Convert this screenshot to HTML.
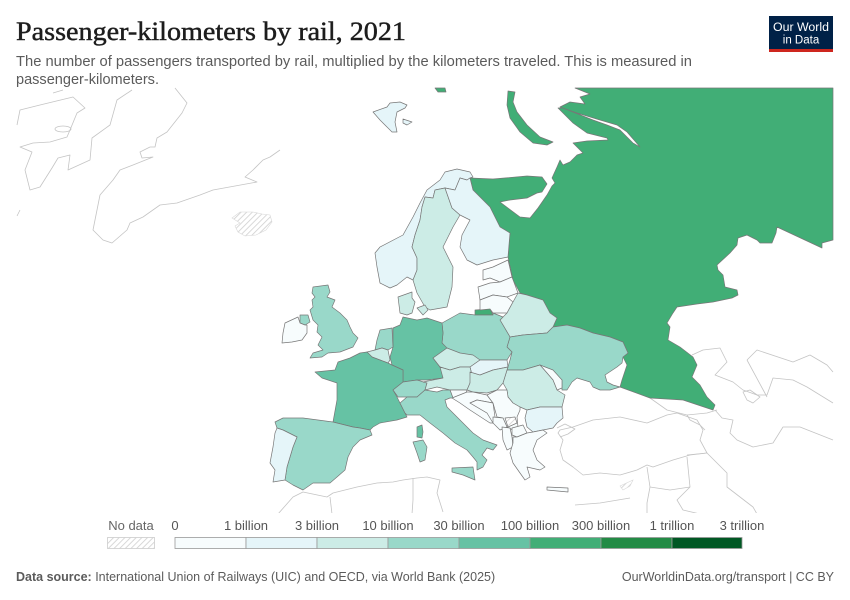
<!DOCTYPE html>
<html><head><meta charset="utf-8">
<style>
html,body{margin:0;padding:0;background:#fff;}
svg{display:block;}
</style></head>
<body>
<svg width="850" height="600" viewBox="0 0 850 600" xmlns="http://www.w3.org/2000/svg">
<defs>
<pattern id="hatch" patternUnits="userSpaceOnUse" width="4" height="4" patternTransform="rotate(45)">
<rect width="4" height="4" fill="#fff"/>
<line x1="0" y1="0" x2="0" y2="4" stroke="#cfcfcf" stroke-width="1.6"/>
</pattern>
<clipPath id="mapclip"><rect x="0" y="86" width="833.5" height="427"/></clipPath>
</defs>
<rect width="850" height="600" fill="#fff"/>

<!-- Title -->
<text x="16" y="40" font-family="'Liberation Serif', serif" font-size="26" fill="#1d1d1d" stroke="#1d1d1d" stroke-width="0.45" textLength="390" lengthAdjust="spacingAndGlyphs">Passenger-kilometers by rail, 2021</text>
<text x="16" y="66" font-family="'Liberation Sans', sans-serif" font-size="14.5" fill="#5b5b5b" textLength="676" lengthAdjust="spacingAndGlyphs">The number of passengers transported by rail, multiplied by the kilometers traveled. This is measured in</text>
<text x="16" y="84" font-family="'Liberation Sans', sans-serif" font-size="14.5" fill="#5b5b5b" textLength="143" lengthAdjust="spacingAndGlyphs">passenger-kilometers.</text>

<!-- Logo -->
<rect x="769" y="16" width="64" height="36" fill="#002147"/>
<rect x="769" y="49" width="64" height="3" fill="#ce261e"/>
<text x="801" y="31" text-anchor="middle" font-family="'Liberation Sans', sans-serif" font-size="11.5" fill="#fff" textLength="56" lengthAdjust="spacingAndGlyphs">Our World</text>
<text x="801" y="43.5" text-anchor="middle" font-family="'Liberation Sans', sans-serif" font-size="11.5" fill="#fff">in Data</text>

<g clip-path="url(#mapclip)">
<!-- no-data world outlines -->
<g fill="none" stroke="#c4c4c4" stroke-width="0.8" stroke-linejoin="round">
<path d="M175,88 L187,103 L182,113 L167,132 L157,138 L155,147 L150,147 L140,152 L142,158 L153,157 L133,165 L120,170 L113,180 L100,195 L95,220 L93,230 L103,240 L112,243 L127,230 L130,223 L143,217 L160,205 L177,203 L200,195 L213,190 L257,182 L245,177 L253,170 L263,160 L270,157 L280,150"/>
<path d="M40,105 L73,97 L85,108 L77,113 L70,130 L67,137 L50,142 L33,143 L20,147 L32,152 L25,170 L30,190 L40,187 L52,168 L58,158 L70,155 L68,170 L90,160 L92,138 L110,125 L117,100 L132,90"/>
<path d="M40,105 L20,110 L17,125"/>
<path d="M53,93 L63,90"/>
<path d="M20,210 L17,216"/>
<ellipse cx="63" cy="129" rx="8" ry="3"/>
<!-- Turkey -->
<path d="M558,433 L560,430 L573,427 L593,420 L620,417 L647,423 L667,415 L677,413 L697,420 L703,430 L700,440 L707,453 L690,455 L673,460 L653,467 L647,465 L637,470 L620,475 L600,473 L583,475 L573,467 L563,460 L560,450 L563,440 Z"/>
<path d="M557,428 L565,424 L575,429 L568,434 L560,437"/>
<!-- Caucasus -->
<path d="M650,398 L667,410 L687,415 L707,413 L717,410"/>
<path d="M687,415 L690,420 L700,425 L705,430"/>
<!-- Kazakhstan / Central Asia -->
<path d="M692,355 L703,350 L720,348 L727,362 L715,375 L733,382 L743,390 L757,395 L767,395 L773,378 L793,380 L807,387 L833,403"/>
<path d="M747,360 L757,350 L793,362 L810,355 L827,365 L833,372"/>
<path d="M747,360 L767,397"/>
<path d="M743,392 L750,390 L760,397 L753,403 L747,400 Z"/>
<path d="M715,410 L722,418 L733,420 L730,433 L737,440 L753,447 L773,443 L783,427 L800,427 L833,440"/>
<!-- Middle East -->
<path d="M687,455 L707,453 L727,473 L727,487 L740,497 L753,507 L757,514"/>
<path d="M647,467 L650,487 L647,503 L647,514"/>
<path d="M687,457 L690,487 L677,500 L683,510 L700,514"/>
<path d="M650,487 L670,490 L690,487"/>
<!-- North Africa -->
<path d="M278,514 L293,497 L303,492 L327,497 L333,493 L357,487 L377,483 L393,482 L403,480 L417,478 L427,477 L440,480 L437,493 L443,512"/>
<path d="M330,497 L332,514"/>
<path d="M413,478 L413,500 L412,514"/>
<path d="M575,505 L600,503 L630,498"/>
</g>
<!-- Cyprus, Iceland (no data) -->
<path d="M620,486 L633,480 L630,486 L623,490 Z" fill="url(#hatch)" stroke="#d8d8d8" stroke-width="0.6"/>
<path d="M232,218 L240,212 L253,212 L262,214 L270,215 L272,222 L266,230 L256,235 L245,236 L238,232 L235,226 L240,223 Z" fill="url(#hatch)" stroke="#d8d8d8" stroke-width="0.6"/>

<g stroke="#777" stroke-width="0.7" stroke-linejoin="round">
<!-- Russia -->
<path fill="#41ae76" d="M470,178 L493,179 L527,176 L542,177 L547,184 L542,192 L537,193 L527,198 L510,200 L500,202 L520,217 L530,218 L538,208 L547,195 L552,186 L555,183 L552,178 L557,167 L560,160 L563,165 L570,162 L577,155 L583,153 L573,143 L587,141 L608,140 L607,138 L587,133 L573,123 L558,108 L563,108 L573,112 L593,120 L607,125 L620,130 L633,143 L640,147 L627,132 L617,125 L600,120 L577,113 L560,107 L570,102 L585,104 L580,97 L590,94 L575,88 L833,88 L833,240 L822,243 L822,248 L777,227 L776,233 L772,243 L760,243 L757,240 L747,235 L738,238 L737,245 L730,253 L717,265 L718,270 L723,275 L725,287 L737,290 L738,295 L732,298 L713,302 L697,304 L677,307 L673,313 L667,323 L670,327 L668,340 L680,347 L693,357 L697,365 L692,377 L700,385 L707,397 L715,405 L713,410 L683,400 L650,398 L620,387 L622,380 L627,365 L623,357 L628,353 L623,342 L610,337 L593,333 L580,328 L567,325 L553,327 L557,318 L550,313 L543,300 L520,293 L513,280 L508,257 L510,233 L500,227 L490,207 L473,190 Z"/>
<!-- Novaya Zemlya -->
<path fill="#41ae76" d="M508,91 L515,92 L513,102 L517,112 L527,125 L540,137 L553,142 L547,145 L533,143 L520,132 L510,118 L507,105 Z"/>
<!-- Franz Josef -->
<path fill="#41ae76" d="M435,88 L445,88 L446,92 L438,92 Z"/>
<!-- Kaliningrad -->
<path fill="#41ae76" d="M475,310 L490,309 L493,315 L475,315 Z"/>

<!-- Svalbard -->
<path fill="#e5f5f9" d="M373,112 L387,107 L390,103 L400,102 L407,105 L405,108 L397,112 L395,122 L397,132 L392,132 L387,127 L380,120 Z"/>
<path fill="#e5f5f9" d="M403,119 L412,122 L407,125 L403,123 Z"/>

<!-- Norway -->
<path fill="#e5f5f9" d="M375,253 L380,247 L403,235 L413,217 L420,203 L427,190 L440,180 L445,172 L457,169 L470,172 L473,177 L470,178 L467,180 L460,178 L455,190 L445,188 L435,190 L433,198 L425,197 L422,207 L420,220 L415,235 L412,247 L417,258 L417,270 L413,280 L407,277 L397,285 L390,288 L380,283 L377,267 Z"/>
<!-- Sweden -->
<path fill="#ccece6" d="M433,198 L435,190 L445,188 L452,208 L460,215 L453,227 L443,247 L453,267 L452,287 L447,307 L430,310 L425,307 L417,293 L413,280 L417,270 L417,258 L412,247 L415,235 L420,220 L422,207 L425,197 Z"/>
<!-- Finland -->
<path fill="#e5f5f9" d="M455,190 L460,178 L467,180 L470,178 L473,190 L490,207 L500,227 L510,233 L508,257 L493,260 L477,265 L467,260 L460,247 L462,235 L470,220 L460,215 L452,208 L445,188 Z"/>
<!-- Estonia -->
<path fill="#f7fcfd" d="M483,270 L493,267 L508,260 L512,277 L500,282 L490,278 L483,280 Z"/>
<!-- Latvia -->
<path fill="#f7fcfd" d="M478,287 L490,283 L500,282 L512,277 L518,293 L507,297 L493,295 L480,300 Z"/>
<!-- Lithuania -->
<path fill="#f7fcfd" d="M480,300 L493,295 L507,297 L513,302 L507,313 L493,313 L490,309 L480,310 Z"/>
<!-- Belarus -->
<path fill="#ccece6" d="M513,302 L518,293 L527,295 L543,300 L550,313 L557,318 L553,327 L547,333 L523,335 L510,337 L500,320 L507,313 Z"/>
<!-- Ukraine -->
<path fill="#99d8c9" d="M510,337 L523,335 L547,333 L553,327 L567,325 L580,328 L593,333 L610,337 L623,342 L628,353 L623,357 L622,363 L617,367 L605,375 L607,382 L613,385 L620,387 L610,390 L600,390 L593,387 L590,382 L577,378 L572,382 L567,390 L562,390 L562,380 L553,373 L540,365 L523,370 L507,370 L510,360 L512,352 L507,347 Z"/>
<!-- Moldova -->
<path fill="#f7fcfd" d="M540,365 L553,370 L562,380 L562,388 L557,390 L553,380 L547,373 Z"/>
<!-- Romania -->
<path fill="#ccece6" d="M507,370 L523,370 L540,365 L547,373 L553,380 L557,390 L565,395 L562,407 L553,407 L540,407 L527,410 L520,407 L513,403 L508,397 L507,390 L503,383 Z"/>
<!-- Bulgaria -->
<path fill="#e5f5f9" d="M527,410 L540,407 L553,407 L562,407 L563,418 L557,423 L553,428 L543,430 L533,432 L527,427 L525,418 Z"/>
<!-- Poland -->
<path fill="#99d8c9" d="M442,323 L460,313 L475,315 L493,315 L493,313 L503,317 L500,320 L510,337 L507,347 L512,352 L507,360 L493,360 L477,360 L463,355 L450,352 L442,343 L443,333 Z"/>
<!-- Germany -->
<path fill="#66c2a4" d="M403,317 L417,320 L427,318 L442,323 L443,333 L442,343 L447,348 L433,358 L440,367 L442,365 L443,378 L427,380 L417,380 L403,382 L403,370 L392,365 L390,357 L393,347 L393,328 L400,325 Z"/>
<!-- Denmark -->
<path fill="#ccece6" d="M398,297 L412,292 L412,298 L415,302 L412,313 L407,315 L400,313 Z"/>
<path fill="#ccece6" d="M417,308 L425,305 L428,310 L423,315 Z"/>
<!-- Netherlands -->
<path fill="#99d8c9" d="M380,330 L392,328 L393,347 L388,350 L382,348 L375,350 L377,340 Z"/>
<!-- Belgium -->
<path fill="#ccece6" d="M367,352 L375,350 L382,348 L388,350 L390,360 L388,363 L380,360 L372,357 Z"/>
<!-- France -->
<path fill="#66c2a4" d="M315,372 L335,370 L338,362 L350,358 L360,353 L367,352 L372,357 L380,360 L388,363 L392,365 L403,370 L403,382 L393,390 L397,397 L400,403 L405,413 L407,417 L397,420 L380,423 L373,427 L370,430 L360,428 L353,427 L333,422 L337,400 L337,383 L322,378 Z"/>
<path fill="#66c2a4" d="M417,427 L422,425 L423,432 L422,438 L417,437 Z"/>
<!-- Switzerland -->
<path fill="#99d8c9" d="M393,390 L403,382 L417,380 L427,383 L425,390 L417,397 L407,397 L398,397 Z"/>
<!-- Czechia -->
<path fill="#ccece6" d="M433,358 L447,348 L460,353 L473,355 L480,360 L470,367 L460,367 L450,370 L440,367 Z"/>
<!-- Slovakia -->
<path fill="#e5f5f9" d="M470,367 L480,360 L493,360 L507,360 L508,367 L493,370 L480,375 L472,375 Z"/>
<!-- Austria -->
<path fill="#ccece6" d="M423,382 L443,378 L440,367 L450,370 L460,367 L470,367 L472,375 L470,383 L467,390 L450,390 L437,387 L425,390 L427,383 Z"/>
<!-- Hungary -->
<path fill="#ccece6" d="M470,372 L480,375 L493,370 L508,367 L507,370 L503,383 L497,390 L487,393 L473,392 L467,390 L470,383 Z"/>
<!-- Slovenia -->
<path fill="#f7fcfd" d="M450,390 L467,390 L465,397 L453,398 Z"/>
<!-- Croatia -->
<path fill="#f7fcfd" d="M452,398 L467,392 L473,392 L487,395 L493,403 L477,400 L470,403 L487,413 L497,423 L490,423 L470,410 L460,403 Z"/>
<!-- Bosnia -->
<path fill="#f7fcfd" d="M470,403 L477,400 L493,403 L495,417 L493,423 L487,413 Z"/>
<!-- Serbia -->
<path fill="#f7fcfd" d="M487,395 L497,390 L507,390 L508,397 L513,403 L520,407 L520,410 L517,417 L518,427 L513,430 L507,427 L503,418 L497,417 L493,403 Z"/>
<!-- Kosovo -->
<path fill="url(#hatch)" d="M505,418 L515,417 L517,423 L508,427 Z"/>
<!-- Montenegro -->
<path fill="#f7fcfd" d="M493,417 L503,418 L507,427 L500,430 L493,423 Z"/>
<!-- N Macedonia -->
<path fill="#f7fcfd" d="M512,428 L523,425 L527,433 L517,437 L512,435 Z"/>
<!-- Albania -->
<path fill="#f7fcfd" d="M502,427 L510,428 L512,437 L513,447 L507,450 L503,440 Z"/>
<!-- Greece -->
<path fill="#f7fcfd" d="M513,437 L517,437 L527,433 L533,432 L543,430 L547,433 L537,440 L533,450 L537,460 L545,467 L540,470 L527,467 L530,477 L525,480 L520,473 L513,463 L510,453 L513,443 Z"/>
<path fill="#f7fcfd" d="M547,487 L568,488 L568,492 L547,490 Z"/>
<!-- Italy -->
<path fill="#99d8c9" d="M400,403 L407,397 L417,397 L425,390 L437,392 L443,390 L450,390 L453,398 L450,398 L445,400 L447,407 L460,420 L473,433 L483,440 L497,445 L493,450 L487,448 L482,455 L487,460 L483,467 L477,470 L477,462 L473,457 L467,450 L455,443 L443,433 L430,423 L420,415 L407,415 L405,413 Z"/>
<path fill="#99d8c9" d="M452,468 L473,467 L475,480 L463,475 L452,472 Z"/>
<path fill="#99d8c9" d="M413,442 L423,440 L427,447 L425,460 L420,462 L417,453 Z"/>
<!-- Spain -->
<path fill="#99d8c9" d="M275,422 L283,418 L303,418 L333,422 L353,427 L360,428 L370,430 L372,435 L360,440 L353,447 L348,457 L345,470 L337,477 L330,483 L313,483 L303,490 L293,485 L285,480 L287,467 L290,457 L293,447 L297,437 L283,430 L277,428 Z"/>
<!-- Portugal -->
<path fill="#e5f5f9" d="M277,428 L283,430 L297,437 L293,447 L290,457 L287,467 L285,480 L273,482 L275,470 L270,463 L273,447 L275,433 Z"/>
<!-- UK -->
<path fill="#99d8c9" d="M313,287 L328,285 L330,292 L327,297 L335,300 L332,307 L340,313 L347,320 L350,327 L353,333 L358,338 L353,347 L340,352 L328,353 L322,357 L310,358 L313,353 L323,350 L318,345 L322,337 L317,332 L318,325 L313,320 L310,310 L313,307 L312,300 L315,297 L312,293 Z"/>
<path fill="#99d8c9" d="M300,315 L308,315 L310,322 L305,325 L300,323 Z"/>
<!-- Ireland -->
<path fill="#f7fcfd" d="M285,323 L298,317 L300,323 L305,325 L307,325 L307,333 L302,340 L292,342 L282,343 L283,333 Z"/>
</g>
</g>

<!-- Legend -->
<g font-family="'Liberation Sans', sans-serif" font-size="13" fill="#555">
<text x="131" y="530" text-anchor="middle" fill="#666">No data</text>
<text x="175" y="530" text-anchor="middle">0</text>
<text x="246" y="530" text-anchor="middle">1 billion</text>
<text x="317" y="530" text-anchor="middle">3 billion</text>
<text x="388" y="530" text-anchor="middle">10 billion</text>
<text x="459" y="530" text-anchor="middle">30 billion</text>
<text x="530" y="530" text-anchor="middle">100 billion</text>
<text x="601" y="530" text-anchor="middle">300 billion</text>
<text x="672" y="530" text-anchor="middle">1 trillion</text>
<text x="742" y="530" text-anchor="middle">3 trillion</text>
</g>
<rect x="107.5" y="537.5" width="47" height="11" fill="url(#hatch)" stroke="#ccc" stroke-width="0.8"/>
<g stroke="#999" stroke-width="0.8">
<rect x="175" y="537.5" width="71" height="11" fill="#f7fcfd"/>
<rect x="246" y="537.5" width="71" height="11" fill="#e5f5f9"/>
<rect x="317" y="537.5" width="71" height="11" fill="#ccece6"/>
<rect x="388" y="537.5" width="71" height="11" fill="#99d8c9"/>
<rect x="459" y="537.5" width="71" height="11" fill="#66c2a4"/>
<rect x="530" y="537.5" width="71" height="11" fill="#41ae76"/>
<rect x="601" y="537.5" width="71" height="11" fill="#238b45"/>
<rect x="672" y="537.5" width="70" height="11" fill="#005824"/>
</g>

<!-- Footer -->
<text x="16" y="581" font-family="'Liberation Sans', sans-serif" font-size="12.5" fill="#5b5b5b"><tspan font-weight="bold">Data source:</tspan> International Union of Railways (UIC) and OECD, via World Bank (2025)</text>
<text x="834" y="581" text-anchor="end" font-family="'Liberation Sans', sans-serif" font-size="12.5" fill="#5b5b5b">OurWorldinData.org/transport | CC BY</text>
</svg>
</body></html>
